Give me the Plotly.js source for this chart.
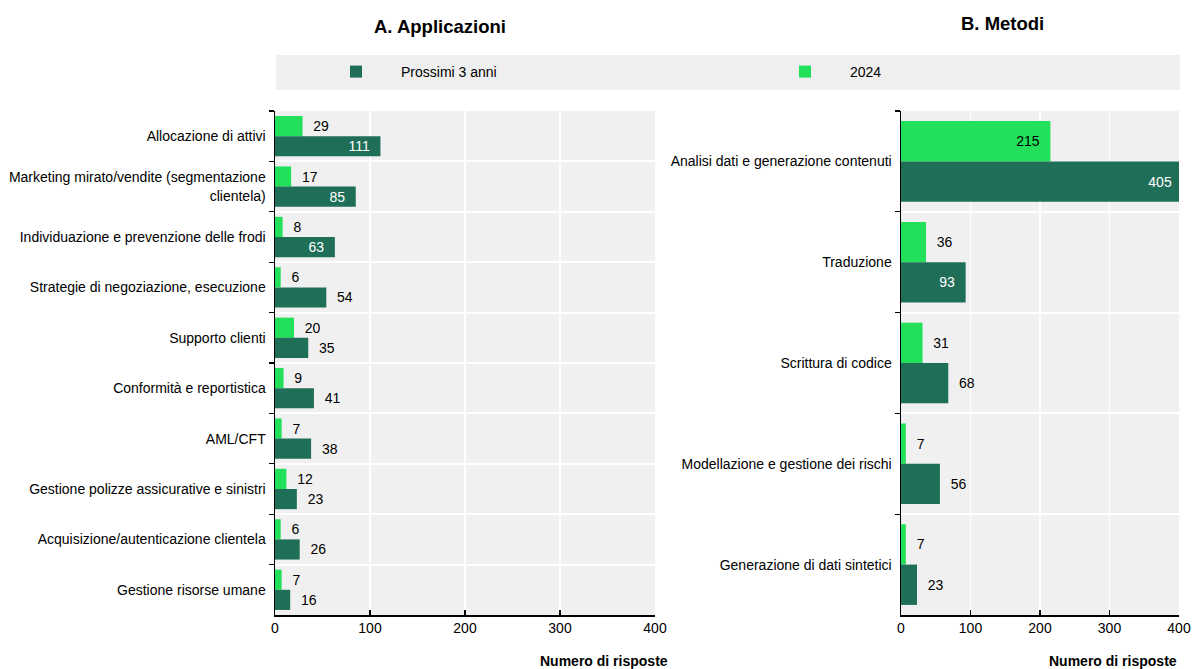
<!DOCTYPE html>
<html><head><meta charset="utf-8">
<script src="https://cdn.plot.ly/plotly-3.0.1.min.js"></script>
<style>html,body{margin:0;padding:0;background:#fff}</style>
</head><body><div id="chart" style="width:1192px;height:669px"></div>
<script>
// ---- data ----
const appCategories = [
  'Allocazione di attivi',
  'Marketing mirato/vendite (segmentazione<br>clientela)',
  'Individuazione e prevenzione delle frodi',
  'Strategie di negoziazione, esecuzione',
  'Supporto clienti',
  'Conformità e reportistica',
  'AML/CFT',
  'Gestione polizze assicurative e sinistri',
  'Acquisizione/autenticazione clientela',
  'Gestione risorse umane'
];
const app2024  = [29, 17, 8, 6, 20, 9, 7, 12, 6, 7];
const appNext3 = [111, 85, 63, 54, 35, 41, 38, 23, 26, 16];

const metCategories = [
  'Analisi dati e generazione contenuti',
  'Traduzione',
  'Scrittura di codice',
  'Modellazione e gestione dei rischi',
  'Generazione di dati sintetici'
];
const met2024  = [215, 36, 31, 7, 7];
const metNext3 = [405, 93, 68, 56, 23];

const seriesNames = ['Prossimi 3 anni', '2024'];
const xTicks = [0, 100, 200, 300, 400];

// ---- style ----
const W = 1192, H = 669;
const DARK = '#1f6e58', LIGHT = '#22e05a';
const FONT = 'Liberation Sans Narrow, Arial Narrow, Liberation Sans, Arial, sans-serif';
const leftPx = [275, 655], rightPx = [901, 1179];
const topPx = 111, botPx = 615;
const pxPerUnitL = (leftPx[1] - leftPx[0]) / 400;
const pxPerUnitR = (rightPx[1] - rightPx[0]) / 400;
const NB = '\u00a0\u00a0';

function positions(vals, ppu) { return vals.map(v => v * ppu > 55 ? 'inside' : 'outside'); }

function barTrace(name, vals, cats, color, insideColor, xa, ya, ppu, legend, showlegend) {
  return {
    type: 'bar', orientation: 'h', name: name, x: vals, y: cats,
    xaxis: xa, yaxis: ya, legend: legend, showlegend: showlegend,
    marker: {color: color, line: {width: 0}},
    texttemplate: NB + '%{x}' + NB,
    textposition: positions(vals, ppu),
    insidetextanchor: 'end',
    constraintext: 'none',
    cliponaxis: true,
    insidetextfont: {color: insideColor, size: 14, family: FONT},
    outsidetextfont: {color: '#000', size: 14, family: FONT},
    hoverinfo: 'skip'
  };
}

const data = [
  barTrace(seriesNames[1], app2024, appCategories, LIGHT, '#000', 'x', 'y', pxPerUnitL, 'legend2', true),
  barTrace(seriesNames[0], appNext3, appCategories, DARK, '#fff', 'x', 'y', pxPerUnitL, 'legend', true),
  barTrace(seriesNames[1], met2024, metCategories, LIGHT, '#000', 'x2', 'y2', pxPerUnitR, 'legend2', false),
  barTrace(seriesNames[0], metNext3, metCategories, DARK, '#fff', 'x2', 'y2', pxPerUnitR, 'legend', false)
];

const px = v => v / W, py = v => 1 - v / H;

function xax(domain, anchor) {
  return {
    domain: domain, anchor: anchor, range: [0, 400], tickvals: xTicks,
    showgrid: true, gridcolor: '#ffffff', gridwidth: 1.5,
    showline: true, linecolor: '#000', linewidth: 1.5,
    ticks: 'inside', ticklen: 5, tickcolor: '#000', tickwidth: 1.2,
    zeroline: false, fixedrange: true,
    tickfont: {size: 14, family: FONT, color: '#000'}
  };
}
function yax(anchor) {
  return {
    domain: [py(botPx), py(topPx)], anchor: anchor, type: 'category',
    autorange: 'reversed', tickson: 'boundaries',
    ticks: 'outside', ticklen: 5, tickcolor: '#000', tickwidth: 1.2,
    showgrid: true, gridcolor: '#ffffff', gridwidth: 2,
    showline: true, linecolor: '#000', linewidth: 1.5,
    zeroline: false, fixedrange: true, automargin: false,
    ticklabelstandoff: 5,
    tickfont: {size: 14, family: FONT, color: '#000'}
  };
}

const layout = {
  width: W, height: H,
  margin: {l: 0, r: 0, t: 0, b: 0},
  paper_bgcolor: '#ffffff', plot_bgcolor: '#f0f0f0',
  barmode: 'group', bargap: 0.2, bargroupgap: 0,
  font: {family: FONT, size: 13, color: '#000'},
  xaxis: xax([px(leftPx[0]), px(leftPx[1])], 'y'),
  yaxis: yax('x'),
  xaxis2: xax([px(rightPx[0]), px(rightPx[1])], 'y2'),
  yaxis2: yax('x2'),
  showlegend: true,
  legend: {x: px(311), y: py(72), xanchor: 'left', yanchor: 'middle', orientation: 'h',
           itemwidth: 80, bgcolor: 'rgba(0,0,0,0)', font: {size: 14, family: FONT}},
  legend2: {x: px(760), y: py(72), xanchor: 'left', yanchor: 'middle', orientation: 'h',
            itemwidth: 80, bgcolor: 'rgba(0,0,0,0)', font: {size: 14, family: FONT}},
  shapes: [{type: 'rect', xref: 'paper', yref: 'paper', x0: px(276), x1: px(1180), y0: py(90), y1: py(55),
            fillcolor: '#efefef', line: {width: 0}, layer: 'below'}],
  annotations: [
    {text: '<b>A. Applicazioni</b>', xref: 'paper', yref: 'paper', x: px(440), y: py(26),
     xanchor: 'center', yanchor: 'middle', showarrow: false,
     font: {size: 18.5, family: 'Liberation Sans, Arial, sans-serif'}},
    {text: '<b>B. Metodi</b>', xref: 'paper', yref: 'paper', x: px(1002), y: py(24),
     xanchor: 'center', yanchor: 'middle', showarrow: false,
     font: {size: 18.5, family: 'Liberation Sans, Arial, sans-serif'}},
    {text: '<b>Numero di risposte</b>', xref: 'paper', yref: 'paper', x: px(670), y: py(661),
     xanchor: 'right', yanchor: 'middle', showarrow: false, font: {size: 14, family: FONT}},
    {text: '<b>Numero di risposte</b>', xref: 'paper', yref: 'paper', x: px(1179), y: py(661),
     xanchor: 'right', yanchor: 'middle', showarrow: false, font: {size: 14, family: FONT}}
  ]
};

Plotly.newPlot('chart', data, layout, {displayModeBar: false, staticPlot: true});
</script>
</body></html>
